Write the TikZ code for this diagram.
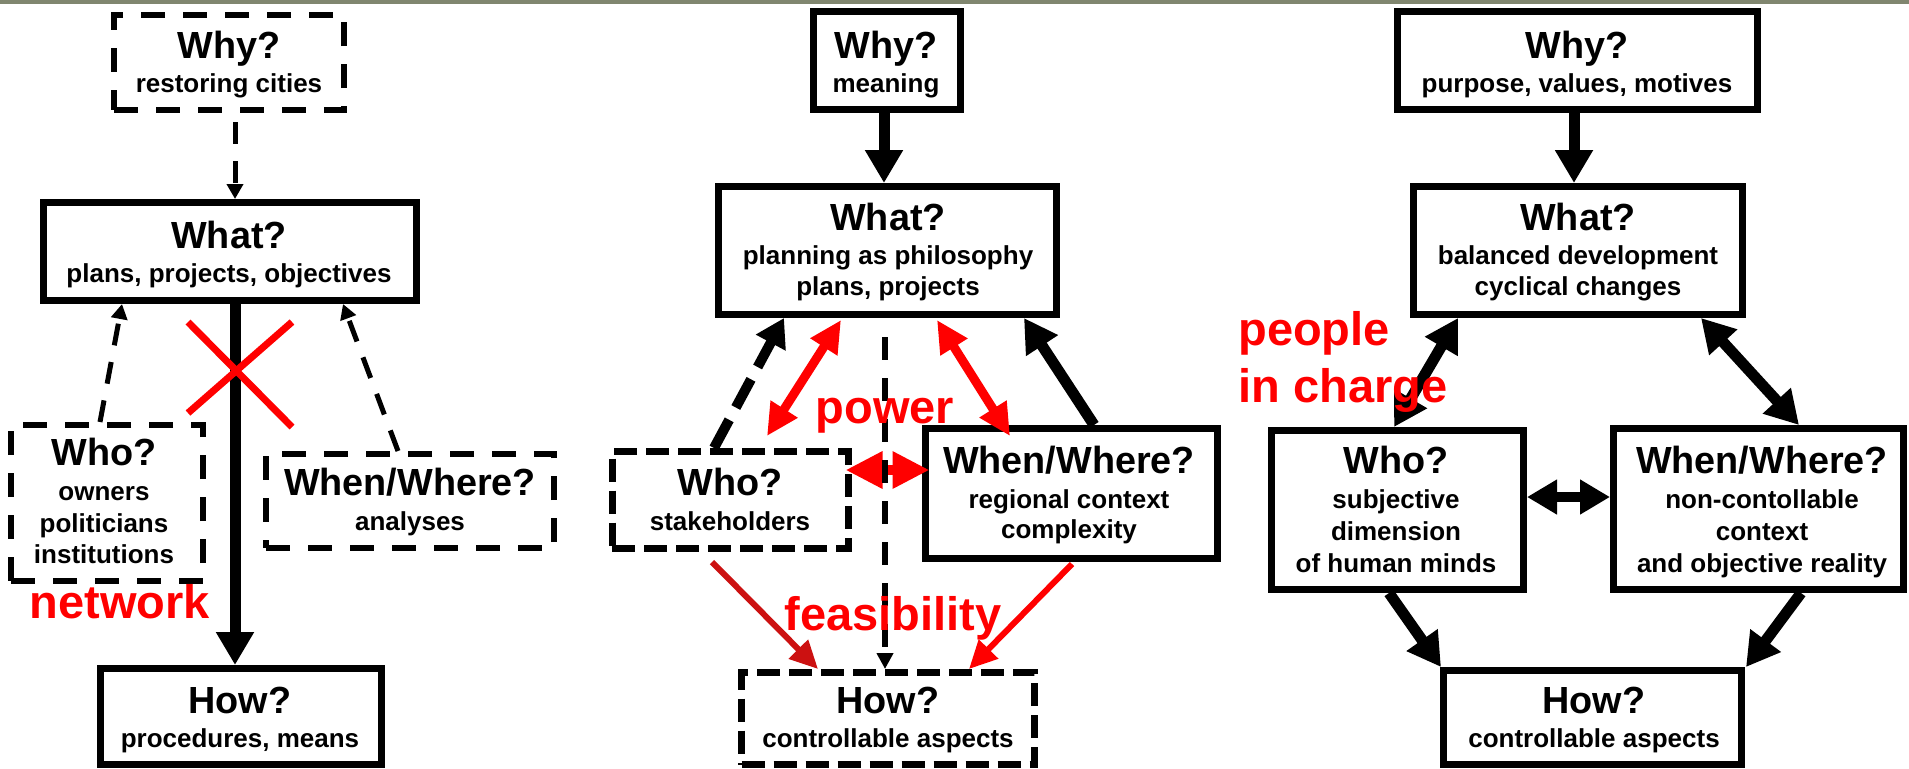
\documentclass[tikz,border=0pt]{standalone}
\usepackage{fontspec}
\setmainfont{Liberation Sans}
\usetikzlibrary{arrows.meta,calc}
\definecolor{myred}{RGB}{255,0,0}
\definecolor{mydarkred}{RGB}{204,17,17}
\definecolor{stripcol}{RGB}{128,134,111}
\begin{document}
\begin{tikzpicture}[x=0.5pt,y=-0.5pt,
  sbox/.style={draw=black, line width=3.5pt, inner sep=0pt, outer sep=1.75pt},
  dbox/.style={draw=black, line width=3pt, dash pattern=on 12pt off 9pt, inner sep=0pt, outer sep=1.5pt},
  dboxb/.style={draw=black, line width=3.5pt, dash pattern=on 11.5pt off 4.5pt, inner sep=0pt, outer sep=1.75pt},
  ttl/.style={anchor=base, inner sep=0pt, font=\fontsize{18.9}{20}\selectfont\bfseries},
  sub/.style={anchor=base, inner sep=0pt, font=\fontsize{13}{15}\selectfont\bfseries},
  lbl/.style={anchor=base, inner sep=0pt, text=myred, font=\fontsize{23.5}{26}\selectfont\bfseries},
  thk/.style={draw=black, line width=5.5pt, -{Triangle[width=18pt,length=16.5pt]}},
  thkd/.style={draw=black, line width=5.5pt, {Triangle[width=18pt,length=16.5pt]}-{Triangle[width=18pt,length=16.5pt]}},
  thkh/.style={draw=black, line width=5pt, {Triangle[width=16.5pt,length=15pt]}-{Triangle[width=16.5pt,length=15pt]}},
  thkdash/.style={draw=black, line width=5pt, dash pattern=on 16pt off 7pt, -{Triangle[width=16pt,length=14pt]}},
  thindash/.style={draw=black, line width=2.5pt, dash pattern=on 11pt off 8.5pt, -{Triangle[width=8pt,length=7.5pt]}},
  thindashb/.style={draw=black, line width=3pt, dash pattern=on 11.5pt off 9pt, -{Triangle[width=8pt,length=8pt]}},
  redd/.style={draw=myred, line width=4.5pt, {Triangle[width=15pt,length=16pt]}-{Triangle[width=15pt,length=16pt]}},
  reddh/.style={draw=myred, line width=5pt, {Triangle[width=17.5pt,length=18.5pt]}-{Triangle[width=17.5pt,length=18.5pt]}},
  redthin/.style={line width=3pt, -{Triangle[width=13pt,length=14pt]}},
  redx/.style={draw=myred, line width=3.5pt}
]
\useasboundingbox (0,0) rectangle (1909,768);
\fill[white] (0,0) rectangle (1909,768);
\fill[stripcol] (0,0) rectangle (1909,3.5);

% ---------- panel 1 ----------
\node[dbox, minimum width=115pt, minimum height=47.5pt] (why1) at (229,62.5) {};
\node[sbox, minimum width=186.5pt, minimum height=49pt] (what1) at (230,251.5) {};
\node[dbox, minimum width=96pt, minimum height=78pt] (who1) at (107,503) {};
\node[dbox, minimum width=144pt, minimum height=47pt] (ww1) at (410,501) {};
\node[sbox, minimum width=140.5pt, minimum height=48pt] (how1) at (241,716.5) {};

\node[ttl] (why1t) at (229,58) {Why?};
\node[sub] (why1s) at (229,92) {restoring cities};
\node[ttl] (what1t) at (229,248) {What?};
\node[sub] (what1s) at (229,282) {plans, projects, objectives};
\node[ttl] (who1t) at (104,465) {Who?};
\node[sub] (who1a) at (104,500) {owners};
\node[sub] (who1b) at (104,532) {politicians};
\node[sub] (who1c) at (104,563) {institutions};
\node[ttl] (ww1t) at (410,495) {When/Where?};
\node[sub] (ww1s) at (410,530) {analyses};
\node[ttl] (how1t) at (240,713) {How?};
\node[sub] (how1s) at (240,747) {procedures, means};

\draw[thindash] ($(why1.south)+(6,9)$) -- ($(what1.north)+(5,0)$);
\draw[thk] ($(what1.south)+(5,0)$) -- ($(how1.north)+(-6,0)$);
\draw[thindash] ($(who1.north)+(-7,0)$) -- ($(what1.south)+(-108,0)$);
\draw[thindash] ($(ww1.north)+(-12,0)$) -- ($(what1.south)+(113,0)$);
\coordinate (xa1) at (188,322); \coordinate (xa2) at (292,427);
\coordinate (xb1) at (292,322); \coordinate (xb2) at (188,413);
\draw[redx] (xa1) -- (xa2);
\draw[redx] (xb1) -- (xb2);
\node[lbl] (network) at (120,618) {network};

% ---------- panel 2 ----------
\node[sbox, minimum width=73.5pt, minimum height=49pt] (why2) at (887,60.5) {};
\node[sbox, minimum width=169pt, minimum height=64pt] (what2) at (887,250.5) {};
\node[dboxb, minimum width=118pt, minimum height=48.5pt] (who2) at (730,500) {};
\node[sbox, minimum width=146pt, minimum height=65pt] (ww2) at (1071,493.5) {};
\node[dboxb, minimum width=146.5pt, minimum height=46pt] (how2) at (888,718.5) {};

\node[ttl] (why2t) at (886,58) {Why?};
\node[sub] (why2s) at (886,92) {meaning};
\node[ttl] (what2t) at (888,230) {What?};
\node[sub] (what2a) at (888,264) {planning as philosophy};
\node[sub] (what2b) at (888,295) {plans, projects};
\node[ttl] (who2t) at (730,495) {Who?};
\node[sub] (who2s) at (730,530) {stakeholders};
\node[ttl] (ww2t) at (1069,473) {When/Where?};
\node[sub] (ww2a) at (1069,508) {regional context};
\node[sub] (ww2b) at (1069,538) {complexity};
\node[ttl] (how2t) at (888,713) {How?};
\node[sub] (how2s) at (888,747) {controllable aspects};

\draw[thk] ($(why2.south)+(-3,0)$) -- ($(what2.north)+(-3,0)$);
\draw[thkdash] ($(who2.north)+(-16,0)$) -- ($(what2.south)+(-103,0)$);
\draw[thk] ($(ww2.north)+(23,0)$) -- ($(what2.south)+(137,0)$);
\draw[redd] ($(what2.south)+(-46,2)$) -- ($(who2.north)+(37,-12)$);
\draw[redd] ($(what2.south)+(50,2)$) -- ($(ww2.north)+(-61,11)$);
\draw[reddh] ($(who2.east)+(-6,-30)$) -- ($(ww2.west)+(8,-23.5)$);
\draw[thindashb] ($(what2.south)+(-2,19)$) -- ($(how2.north)+(-3,0)$);
\draw[redthin, draw=mydarkred, fill=mydarkred] ($(who2.south)+(-18,10)$) -- ($(how2.north)+(-70,0)$);
\draw[redthin, draw=myred, fill=myred] ($(ww2.south)+(1,2)$) -- ($(how2.north)+(81,0)$);
\node[lbl] (power) at (885,423) {power};
\node[lbl] (feas) at (893,630) {feasibility};

% ---------- panel 3 ----------
\node[sbox, minimum width=180pt, minimum height=49pt] (why3) at (1577.5,60.5) {};
\node[sbox, minimum width=164.5pt, minimum height=64pt] (what3) at (1578,250.5) {};
\node[sbox, minimum width=126pt, minimum height=79.5pt] (who3) at (1397.5,510) {};
\node[sbox, minimum width=145pt, minimum height=80.5pt] (ww3) at (1758.5,509) {};
\node[sbox, minimum width=149pt, minimum height=47pt] (how3) at (1592.5,717.5) {};

\node[ttl] (why3t) at (1577,58) {Why?};
\node[sub] (why3s) at (1577,92) {purpose, values, motives};
\node[ttl] (what3t) at (1578,230) {What?};
\node[sub] (what3a) at (1578,264) {balanced development};
\node[sub] (what3b) at (1578,295) {cyclical changes};
\node[ttl] (who3t) at (1396,473) {Who?};
\node[sub] (who3a) at (1396,508) {subjective};
\node[sub] (who3b) at (1396,540) {dimension};
\node[sub] (who3c) at (1396,572) {of human minds};
\node[ttl] (ww3t) at (1762,473) {When/Where?};
\node[sub] (ww3a) at (1762,508) {non-contollable};
\node[sub] (ww3b) at (1762,540) {context};
\node[sub] (ww3c) at (1762,572) {and objective reality};
\node[ttl] (how3t) at (1594,713) {How?};
\node[sub] (how3s) at (1594,747) {controllable aspects};

\draw[thk] ($(why3.south)+(-3.5,0)$) -- ($(what3.north)+(-4,0)$);
\draw[thkd] ($(who3.north)+(-3.5,0)$) -- ($(what3.south)+(-120,0)$);
\draw[thkd] ($(what3.south)+(123,0)$) -- ($(ww3.north)+(40.5,0)$);
\draw[thkh] ($(who3.east)+(0,-13)$) -- ($(ww3.west)+(0,-12)$);
\draw[thk] ($(who3.south)+(-8.5,0)$) -- ($(how3.north)+(-151.5,0)$);
\draw[thk] ($(ww3.south)+(42.5,0)$) -- ($(how3.north)+(153.5,0)$);
\node[lbl, anchor=base west] (people) at (1238,345) {people};
\node[lbl, anchor=base west] (incharge) at (1238,402) {in charge};
\end{tikzpicture}
\end{document}
